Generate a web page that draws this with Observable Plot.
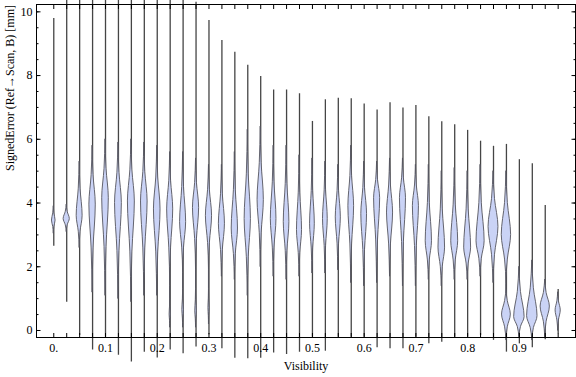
<!DOCTYPE html>
<html><head><meta charset="utf-8">
<script src="https://cdn.jsdelivr.net/npm/d3@7"></script>
<script src="https://cdn.jsdelivr.net/npm/@observablehq/plot@0.6"></script>
<style>body{margin:0;background:#fff} svg{display:block}</style>
</head><body><div id="chart"></div>
<script>
// Violin positions (Visibility)
const visibility = [0, 0.025, 0.05, 0.075, 0.1, 0.125, 0.15, 0.175, 0.2, 0.225,
  0.25, 0.275, 0.3, 0.325, 0.35, 0.375, 0.4, 0.425, 0.45, 0.475,
  0.5, 0.525, 0.55, 0.575, 0.6, 0.625, 0.65, 0.675, 0.7, 0.725,
  0.75, 0.775, 0.8, 0.825, 0.85, 0.875, 0.9, 0.925, 0.95, 0.975];
// Range of each distribution (mm)
const minError = [2.64, 0.89, -0.16, -0.61, -0.21, -0.78, -0.99, -0.68, -0.86, -0.61,
  -0.73, -0.52, -0.13, -0.57, -0.87, -0.89, -0.87, -0.71, -0.75, -0.68,
  -0.21, -0.65, -0.21, -0.21, -0.21, -0.54, -0.57, -0.57, -0.21, -0.42,
  -0.37, -0.21, -0.21, -0.16, -0.31, -0.68, -0.42, -0.54, -0.29, -0.1];
const maxError = [9.79, 10.6, 10.6, 10.6, 10.6, 10.6, 10.6, 10.6, 10.6, 10.6,
  10.6, 10.3, 9.73, 9.1, 8.73, 8.32, 7.97, 7.55, 7.55, 7.43,
  6.56, 7.24, 7.29, 7.27, 7.11, 6.92, 7.15, 6.98, 7.06, 6.71,
  6.55, 6.46, 6.28, 5.94, 5.78, 5.84, 5.36, 5.23, 3.92, 1.29];
// Main density bulge: where it starts, its mode, where it ends, relative peak density
const bulgeLow = [3.05, 3.1, 2.6, 1.2, 1.1, 1.0, 0.9, 1.1, 1.1, 1.4,
  1.8, 1.9, 1.9, 1.7, 1.6, 1.1, 2.0, 1.7, 1.6, 1.7,
  1.8, 1.8, 1.9, 1.5, 1.4, 1.5, 1.7, 1.4, 1.4, 1.6,
  1.4, 1.6, 1.6, 1.7, 1.5, 1.45, -0.2, -0.3, -0.2, 0.0];
const modeError = [3.45, 3.5, 3.6, 3.95, 4.15, 4.0, 4.05, 4.05, 3.8, 3.8,
  3.4, 3.85, 3.6, 3.35, 3.2, 3.5, 4.1, 3.5, 3.4, 3.15,
  3.35, 3.5, 3.55, 3.9, 3.65, 4.15, 3.7, 4.15, 3.9, 2.8,
  2.6, 2.8, 2.6, 2.8, 3.25, 3.0, 0.42, 0.45, 0.75, 0.63];
const bulgeHigh = [3.9, 3.95, 5.3, 5.8, 6.0, 5.9, 6.0, 5.9, 5.8, 5.6,
  5.6, 5.4, 5.2, 5.2, 5.6, 6.3, 6.4, 5.8, 5.8, 5.5,
  5.4, 5.3, 5.2, 5.8, 5.3, 5.3, 5.4, 5.4, 5.2, 5.2,
  5.0, 5.1, 5.0, 5.2, 5.0, 5.0, 2.0, 2.2, 1.6, 1.2];
const peakDensity = [0.33, 0.56, 0.54, 0.58, 0.6, 0.62, 0.63, 0.6, 0.6, 0.55,
  0.55, 0.56, 0.56, 0.55, 0.57, 0.57, 0.57, 0.51, 0.51, 0.46,
  0.43, 0.43, 0.46, 0.52, 0.52, 0.55, 0.55, 0.55, 0.55, 0.57,
  0.6, 0.63, 0.63, 0.74, 0.9, 0.85, 0.95, 0.95, 0.84, 0.47];
// Secondary (lower) bulge, only where there is one
const lowBulgeLow =  {9: 0.1, 10: 0.1, 11: 0.1, 12: 0.2, 35: -0.3};
const lowMode =      {9: 0.5, 10: 0.65, 11: 0.6, 12: 0.7, 35: 0.5};
const lowBulgeHigh = {9: 1.0, 10: 1.3, 11: 1.3, 12: 1.3, 35: 1.35};
const lowDensity =   {9: 0.1, 10: 0.14, 11: 0.14, 12: 0.1, 35: 0.8};
// Tick values and labels
const xTicks = [0, 0.1, 0.2, 0.3, 0.4, 0.5, 0.6, 0.7, 0.8, 0.9];
const xTickLabels = ["0.", "0.1", "0.2", "0.3", "0.4", "0.5", "0.6", "0.7", "0.8", "0.9"];
const yTicks = [0, 2, 4, 6, 8, 10];
const yMinorTicks = [0, 0.5, 1, 1.5, 2, 2.5, 3, 3.5, 4, 4.5, 5, 5.5, 6, 6.5, 7, 7.5, 8, 8.5, 9, 9.5, 10];
const xLabel = "Visibility";
const yLabel = "SignedError (Ref\u2192Scan, B) [mm]";

const K = 0.01063; // half-width of a density of 1, in Visibility units
const rows = [];
visibility.forEach((x, i) => {
  const knots = [];
  const bulge = (lo, pk, hi, d) => {
    knots.push([lo, 0], [lo + 0.5 * (pk - lo), 0.3 * d], [pk, d], [pk + 0.5 * (hi - pk), 0.3 * d], [hi, 0]);
  };
  if (lowMode[i] != null) bulge(lowBulgeLow[i], lowMode[i], lowBulgeHigh[i], lowDensity[i]);
  bulge(bulgeLow[i], modeError[i], bulgeHigh[i], peakDensity[i]);
  knots.forEach(([v, d]) => rows.push({i, x, v, d}));
});
const ranges = visibility.map((x, i) => ({x, lo: minError[i], hi: maxError[i]}));

const blank = () => "";
const chart = Plot.plot({
  width: 576, height: 377,
  marginLeft: 36, marginRight: 1, marginTop: 4, marginBottom: 40,
  style: {fontFamily: "Liberation Serif, Times New Roman, serif", fontSize: "12px", background: "#fff", color: "#000"},
  x: {domain: [-0.0334, 1.0085]},
  y: {domain: [-0.22, 10.23]},
  marks: [
    Plot.ruleX(ranges, {x: "x", y1: "lo", y2: "hi", stroke: "#454545", strokeWidth: 1.3}),
    Plot.areaX(rows, {y: "v", x1: r => r.x - r.d * K, x2: r => r.x + r.d * K, z: "i",
      curve: "monotone-y", fill: "#cad3f6", stroke: "#55555f", strokeWidth: 0.9}),
    Plot.frame({stroke: "#000"}),
    Plot.axisX({anchor: "bottom", ticks: visibility, tickSize: -4, tickFormat: blank, label: null}),
    Plot.axisX({anchor: "top", ticks: visibility, tickSize: -4, tickFormat: blank, label: null}),
    Plot.axisX({anchor: "bottom", ticks: xTicks, tickSize: 0, tickPadding: 6, label: null,
      tickFormat: d => xTickLabels[xTicks.indexOf(d)]}),
    Plot.axisY({anchor: "left", ticks: yMinorTicks, tickSize: -2.5, tickFormat: blank, label: null}),
    Plot.axisY({anchor: "right", ticks: yMinorTicks, tickSize: -2.5, tickFormat: blank, label: null}),
    Plot.axisY({anchor: "left", ticks: yTicks, tickSize: -4.5, tickFormat: blank, label: null}),
    Plot.axisY({anchor: "right", ticks: yTicks, tickSize: -4.5, tickFormat: blank, label: null}),
    Plot.axisY({anchor: "left", ticks: yTicks, tickSize: 0, tickPadding: 4, label: null, tickFormat: d => String(d)}),
    Plot.text([xLabel], {frameAnchor: "bottom", dy: 32, fontSize: 12}),
    Plot.text([yLabel], {frameAnchor: "left", dx: -26, rotate: -90, fontSize: 12})
  ]
});
document.getElementById("chart").appendChild(chart);
</script>
</body></html>
